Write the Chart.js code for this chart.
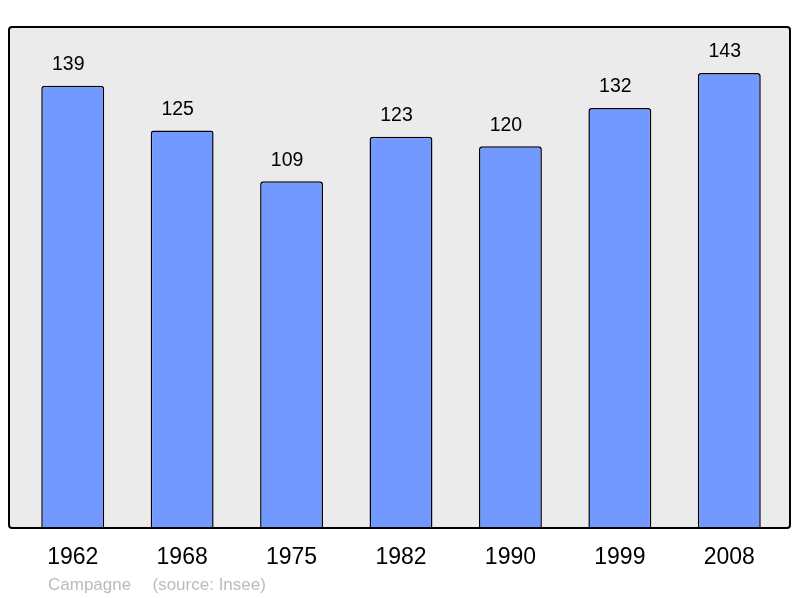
<!DOCTYPE html>
<html><head><meta charset="utf-8">
<script src="https://cdn.jsdelivr.net/npm/chart.js@4/dist/chart.umd.min.js"></script>
<style>html,body{margin:0;padding:0;background:#fff}#w{width:800px;height:598px}</style>
</head><body><div id="w"><canvas id="c" width="800" height="598"></canvas></div>
<script>
const years = ["1962","1968","1975","1982","1990","1999","2008"];
const population = [139,125,109,123,120,132,143];
const footerLeft = "Campagne";
const footerRight = "(source: Insee)";

const boxPlugin = {
  id:'box',
  beforeDraw(chart){
    const ctx = chart.ctx;
    ctx.save();
    ctx.fillStyle = '#ebebeb';
    ctx.beginPath();
    ctx.roundRect(9, 27, 781, 501, 3);
    ctx.fill();
    ctx.restore();
  },
  afterDatasetsDraw(chart){
    const ctx = chart.ctx;
    ctx.save();
    ctx.strokeStyle = '#000';
    ctx.lineWidth = 2;
    ctx.beginPath();
    ctx.roundRect(9, 27, 781, 501, 3);
    ctx.stroke();
    const meta = chart.getDatasetMeta(0);
    ctx.fillStyle = '#000';
    ctx.font = '19.5px "Liberation Sans", Arial, sans-serif';
    ctx.textAlign = 'center';
    ctx.textBaseline = 'middle';
    meta.data.forEach((bar,i)=>{
      ctx.fillText(String(population[i]), bar.x - 4.5, bar.y - 21);
    });
    ctx.fillStyle = '#bbbbbb';
    ctx.font = '17px "Liberation Sans", Arial, sans-serif';
    ctx.textAlign = 'left';
    ctx.fillText(footerLeft, 48, 585);
    ctx.fillText(footerRight, 152.5, 585);
    ctx.restore();
  }
};

new Chart(document.getElementById('c'), {
  type:'bar',
  data:{labels:years, datasets:[{data:population, backgroundColor:'#7199ff', borderColor:'#000', borderWidth:1.5, borderRadius:3, barPercentage:0.575, categoryPercentage:1}]},
  options:{
    responsive:false, animation:false,
    layout:{padding:{left:18, right:16, top:27, bottom:0}},
    plugins:{legend:{display:false}, tooltip:{enabled:false}},
    scales:{
      y:{display:false, min:0, max:157.5},
      x:{grid:{display:false, drawTicks:false}, border:{display:false},
         ticks:{color:'#000', padding:16, font:{size:23, family:'"Liberation Sans", Arial, sans-serif'}},
         afterFit(s){ s.height = 70; }}
    }
  },
  plugins:[boxPlugin]
});
</script></body></html>
